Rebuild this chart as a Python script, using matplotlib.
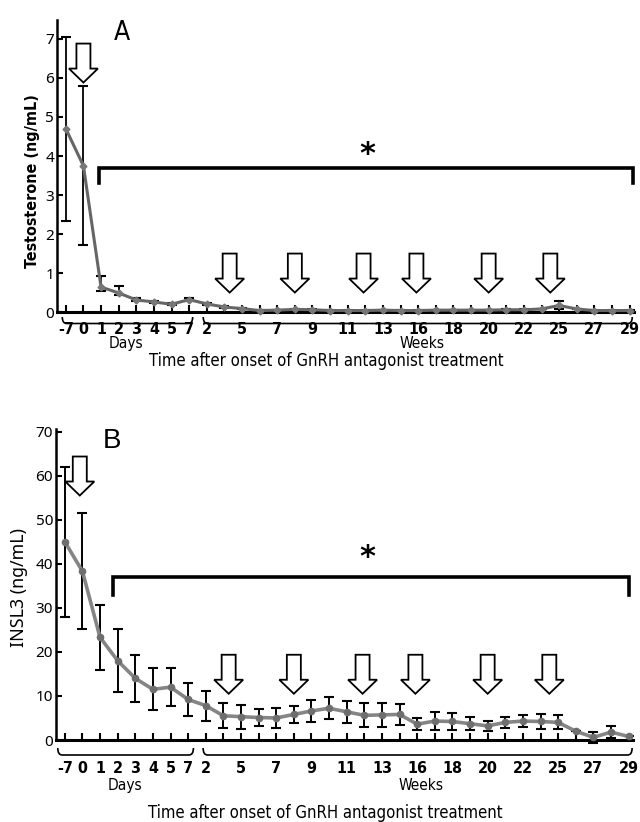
import numpy as np
import matplotlib
matplotlib.use("Agg")
import matplotlib.pyplot as plt
from matplotlib import font_manager
from matplotlib.patches import Polygon, PathPatch
from matplotlib.path import Path
from matplotlib.transforms import ScaledTranslation, blended_transform_factory

# x positions: 8 sampling days then 25 sampling weeks (evenly spaced on the axis)
day_labels = ["-7", "0", "1", "2", "3", "4", "5", "7"]
week_labels = ["2", "5", "7", "9", "11", "13", "16", "18", "20", "22", "25", "27", "29"]

# panel A: testosterone (ng/mL)
testo = [4.7, 3.75, 0.65, 0.5, 0.32, 0.27, 0.21, 0.33, 0.22, 0.14, 0.1, 0.05, 0.06,
         0.08, 0.07, 0.05, 0.05, 0.05, 0.06, 0.05, 0.05, 0.06, 0.06, 0.06, 0.06, 0.07,
         0.07, 0.09, 0.18, 0.09, 0.05, 0.05, 0.05]
testo_up = [2.35, 2.03, 0.28, 0.18, 0.04, 0.03, 0.03, 0.05, 0.02, 0.02, 0.02, 0.01, 0.01,
            0.01, 0.01, 0.01, 0.01, 0.01, 0.01, 0.01, 0.01, 0.01, 0.01, 0.01, 0.01, 0.01,
            0.01, 0.01, 0.12, 0.01, 0.01, 0.01, 0.01]
testo_lo = [2.35, 2.03, 0.1, 0.05, 0.03, 0.02, 0.02, 0.03, 0.02, 0.02, 0.02, 0.01, 0.01,
            0.01, 0.01, 0.01, 0.01, 0.01, 0.01, 0.01, 0.01, 0.01, 0.01, 0.01, 0.06, 0.01,
            0.01, 0.01, 0.1, 0.01, 0.01, 0.01, 0.01]

# panel B: INSL3 (ng/mL)
insl3 = [45, 38.3, 23.3, 18, 14, 11.5, 12, 9.2, 7.8, 5.5, 5.3, 5.1, 5.0, 5.8, 6.6,
         7.2, 6.4, 5.6, 5.7, 5.8, 3.6, 4.3, 4.2, 3.7, 3.2, 4.0, 4.3, 4.2, 4.0, 2.0,
         0.6, 1.8, 0.8]
insl3_err = [17, 13.2, 7.3, 7.1, 5.3, 4.8, 4.3, 3.8, 3.4, 2.8, 2.7, 2.0, 2.3, 2.0, 2.5,
             2.5, 2.5, 2.7, 2.7, 2.3, 1.3, 2.0, 1.9, 1.5, 1.2, 1.2, 1.4, 1.6, 1.6, 0,
             1.2, 1.3, 0]

# arrow positions (axis index) for both panels
arrow_x = [1, 9.3, 13.0, 16.9, 19.9, 24.0, 27.5]

x = np.arange(len(testo))
fig = plt.figure(figsize=(6.4, 8.22), dpi=100)
W, H = 640.0, 822.0

# pick a narrow font if one is installed
names = {f.name for f in font_manager.fontManager.ttflist}
cond = [f for f in font_manager.fontManager.ttflist
        if f.name == "DejaVu Sans" and f.stretch == "condensed"]
if "Liberation Sans Narrow" in names:
    narrow, nscale = ["Liberation Sans Narrow", "DejaVu Sans"], 1.0
elif "DejaVu Sans Condensed" in names:
    narrow, nscale = ["DejaVu Sans Condensed", "DejaVu Sans"], 0.92
elif cond:
    narrow, nscale = ["DejaVu Sans"], 0.92
else:
    narrow, nscale = ["Liberation Sans", "DejaVu Sans"], 0.85
NKW = dict(family=narrow, stretch="condensed")
gothic = ["Noto Sans", "DejaVu Sans"]


def make_axes(left, right, top, bottom):
    return fig.add_axes([left / W, 1 - bottom / H, (right - left) / W, (bottom - top) / H])


def down_arrow(ax, xa, ytip):
    t = fig.dpi_scale_trans + ScaledTranslation(xa, ytip, ax.transData)
    v = [(0, 0), (0.145, 0.14), (0.07, 0.14), (0.07, 0.39), (-0.07, 0.39),
         (-0.07, 0.14), (-0.145, 0.14)]
    ax.add_patch(Polygon(v, closed=True, fc="white", ec="black", lw=1.3,
                         transform=t, clip_on=False, zorder=5))


def brace(ax, x0, x1, top_px, bot_px):
    h = ax.get_position().height * H
    yt, yb = -top_px / h, -bot_px / h
    r = 0.25
    verts = [(x0, yt), (x0, yb), (x0 + r, yb), (x1 - r, yb), (x1, yb), (x1, yt)]
    codes = [Path.MOVETO, Path.CURVE3, Path.CURVE3, Path.LINETO, Path.CURVE3, Path.CURVE3]
    tr = blended_transform_factory(ax.transData, ax.transAxes)
    ax.add_patch(PathPatch(Path(verts, codes), fc="none", ec="black", lw=1.2,
                           transform=tr, clip_on=False))


def below(ax, xv, dy_px, s, **kw):
    tr = blended_transform_factory(ax.transData, ax.transAxes) + \
        ScaledTranslation(0, -dy_px / 100.0, fig.dpi_scale_trans)
    ax.text(xv, 0, s, transform=tr, ha="center", va="center", clip_on=False, **kw)


def style_axes(ax, ymax, yticks):
    ax.set_xlim(-0.5, 32.25)
    ax.set_ylim(0, ymax)
    for s in ["top", "right"]:
        ax.spines[s].set_visible(False)
    ax.spines["left"].set_linewidth(1.8)
    ax.spines["bottom"].set_linewidth(2.2)
    ax.set_xticks(x)
    ax.set_xticklabels([])
    ax.set_yticks(list(yticks))
    ax.set_yticklabels([str(v) for v in yticks], fontsize=11, fontweight="bold",
                       family=gothic)
    ax.tick_params(axis="x", direction="in", length=5, width=1.5)
    ax.tick_params(axis="y", direction="in", length=4, width=1.5, pad=2)


def x_labels(ax, lab_dy, name_dy, title_dy, br_top, br_bot, d0, d1, w0, w1):
    brace(ax, d0, d1, br_top, br_bot)
    brace(ax, w0, w1, br_top, br_bot)
    fs = 12.5 * nscale
    for i, s in enumerate(day_labels):
        below(ax, i, lab_dy, s, fontsize=fs, fontweight="bold", **NKW)
    for i, s in enumerate(week_labels):
        below(ax, 8 + 2 * i, lab_dy, s, fontsize=fs, fontweight="bold", **NKW)
    below(ax, 3.4, name_dy, "Days", fontsize=12 * nscale, **NKW)
    below(ax, 20.2, name_dy, "Weeks", fontsize=12 * nscale, **NKW)
    below(ax, 14.8, title_dy, "Time after onset of GnRH antagonist treatment",
          fontsize=13 * nscale, **NKW)


# ---------------- panel A ----------------
axA = make_axes(57, 634, 20, 312.5)
style_axes(axA, 7.48, range(0, 8))
axA.errorbar(x, testo, yerr=[testo_lo, testo_up], fmt="none", ecolor="black",
             elinewidth=1.3, capsize=3.5, capthick=1.5, zorder=2, clip_on=False)
axA.plot(x, testo, color="#666666", lw=2.2, marker="D", ms=3.5, mfc="#777777",
         mec="#777777", zorder=3, clip_on=False)
axA.set_ylabel("Testosterone (ng/mL)", fontsize=11.5, fontweight="bold", **NKW)
axA.yaxis.set_label_coords(-0.03, 0.45)
axA.text(3.2, 7.15, "A", fontsize=19, ha="center", va="center", **NKW)
axA.plot([1.9, 1.9, 32.2, 32.2], [3.31, 3.7, 3.7, 3.31], color="black", lw=2.6,
         solid_joinstyle="miter", clip_on=False)
axA.text(17.1, 4.05, "*", fontsize=22, fontweight="bold", ha="center", va="center")
down_arrow(axA, arrow_x[0], 5.88)
for xa in arrow_x[1:]:
    down_arrow(axA, xa, 0.51)
x_labels(axA, 17, 31, 48, 4.5, 11, -0.2, 7.2, 7.8, 32.15)

# ---------------- panel B ----------------
axB = make_axes(56, 633, 429, 740)
style_axes(axB, 70.6, range(0, 71, 10))
axB.errorbar(x, insl3, yerr=insl3_err, fmt="none", ecolor="black",
             elinewidth=1.4, capsize=3.5, capthick=1.5, zorder=2, clip_on=False)
axB.plot(x, insl3, color="#858585", lw=2.6, marker="o", ms=4.5, mfc="#6e6e6e",
         mec="#6e6e6e", zorder=3, clip_on=False)
axB.set_ylabel("INSL3 (ng/mL)", fontsize=12.8, family=gothic)
axB.yaxis.set_label_coords(-0.048, 0.49)
axB.text(2.7, 67.8, "B", fontsize=20, family=["Liberation Sans", "DejaVu Sans"],
         ha="center", va="center")
axB.plot([2.75, 2.75, 32.0, 32.0], [33.0, 37.0, 37.0, 33.0], color="black", lw=2.6,
         solid_joinstyle="miter", clip_on=False)
axB.text(17.2, 41.5, "*", fontsize=22, fontweight="bold", ha="center", va="center")
down_arrow(axB, arrow_x[0] - 0.15, 55.5)
for xa in arrow_x[1:]:
    down_arrow(axB, xa, 10.5)
x_labels(axB, 28, 45, 73, 8, 15, -0.4, 7.3, 7.85, 32.2)

fig.savefig("out.png", dpi=100)
